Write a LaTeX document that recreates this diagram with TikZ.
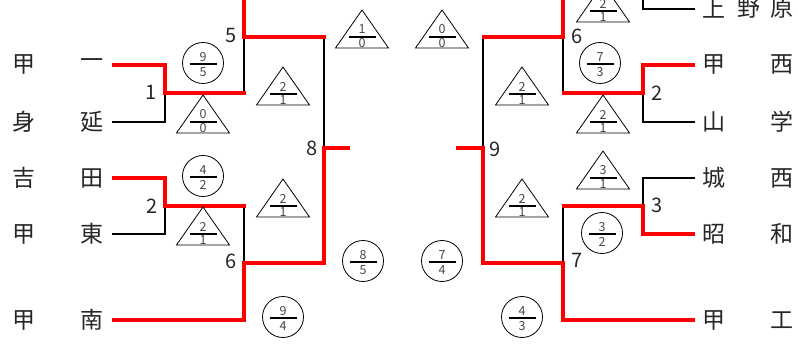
\documentclass[tikz,border=0pt]{standalone}
\usepackage{fontspec}
\setmainfont{Noto Sans CJK JP}
\tikzset{
  win/.style={draw=red, line width=4.6pt, line join=miter},
  lose/.style={draw=black, line width=1.8pt},
  team/.style={font=\fontsize{23}{23}\selectfont, inner sep=0pt, text=black!85},
  rnd/.style={font=\fontsize{20}{20}\selectfont, inner sep=0pt, text=black!85},
  num/.style={font=\fontsize{12.5}{12.5}\selectfont, inner sep=0pt, text=black!72},
  triline/.style={draw=black, line width=0.8pt},
  fbar/.style={draw=black, line width=1.7pt},
}
\newcommand{\tribox}[5]{%
  \draw[triline] ({#2},{#3}) -- ({#2-26.5},{#3+38}) -- ({#2+26.5},{#3+38}) -- cycle;
  \draw[fbar] ({#2-13.5},{#3+27}) -- ({#2+13.5},{#3+27});
  \node[num] (#1-t) at ({#2},{#3+19.5}) {#4};
  \node[num] (#1-b) at ({#2},{#3+33.5}) {#5};}
\newcommand{\circbox}[5]{%
  \draw[triline] ({#2},{#3}) circle (20.5);
  \draw[fbar] ({#2-13.5},{#3+1}) -- ({#2+13.5},{#3+1});
  \node[num] (#1-t) at ({#2},{#3-6}) {#4};
  \node[num] (#1-b) at ({#2},{#3+9}) {#5};}
\begin{document}
\begin{tikzpicture}[x=1pt,y=-1pt]
\useasboundingbox (0,0) rectangle (798,350);
\clip (0,0) rectangle (798,350);

% ---------- left teams ----------
\node[team] (L1a) at (24,64) {甲};  \node[team] (L1b) at (92,64) {一};
\node[team] (L2a) at (24,122) {身}; \node[team] (L2b) at (92,122) {延};
\node[team] (L3a) at (24,178) {吉}; \node[team] (L3b) at (92,178) {田};
\node[team] (L4a) at (24,234) {甲}; \node[team] (L4b) at (92,234) {東};
\node[team] (L5a) at (24,320) {甲}; \node[team] (L5b) at (92,320) {南};

% ---------- right teams ----------
\node[team] (R0a) at (714,8) {上}; \node[team] (R0b) at (749,8) {野}; \node[team] (R0c) at (782,8) {原};
\node[team] (R1a) at (714,64) {甲};  \node[team] (R1b) at (782,64) {西};
\node[team] (R2a) at (714,122) {山}; \node[team] (R2b) at (782,122) {学};
\node[team] (R3a) at (714,178) {城}; \node[team] (R3b) at (782,178) {西};
\node[team] (R4a) at (714,234) {昭}; \node[team] (R4b) at (782,234) {和};
\node[team] (R5a) at (714,320) {甲}; \node[team] (R5b) at (782,320) {工};

% ---------- left coordinates ----------
\coordinate (pL1) at (112,65);  \coordinate (pL2) at (112,122);
\coordinate (pL3) at (112,178); \coordinate (pL4) at (112,234);
\coordinate (pL5) at (112,320);
\coordinate (m1) at (165,93);   \coordinate (m2) at (165,206);
\coordinate (m5) at (244,37);   \coordinate (m5a) at (244,93);  \coordinate (m5t) at (244,-8);
\coordinate (m6) at (244,263);  \coordinate (m6a) at (244,206); \coordinate (m6b) at (244,320);
\coordinate (m8) at (324,148);  \coordinate (m8a) at (324,37);  \coordinate (m8b) at (324,263);
\coordinate (f8) at (350,148);

% ---------- right coordinates ----------
\coordinate (pR0) at (695,9);   \coordinate (pR1) at (695,65);
\coordinate (pR2) at (695,122); \coordinate (pR3) at (695,178);
\coordinate (pR4) at (695,234); \coordinate (pR5) at (695,320);
\coordinate (n0t) at (643,-8);
\coordinate (n2) at (643,93);   \coordinate (n3) at (643,206);
\coordinate (n6) at (563,37);   \coordinate (n6a) at (563,93);  \coordinate (n6t) at (563,-8);
\coordinate (n7) at (563,263);  \coordinate (n7a) at (563,206); \coordinate (n7b) at (563,320);
\coordinate (n9) at (483,148);  \coordinate (n9a) at (483,37);  \coordinate (n9b) at (483,263);
\coordinate (f9) at (456,148);

% ---------- losing (black) lines ----------
\draw[lose] (pL2) -| (m1);
\draw[lose] (pL4) -| (m2);
\draw[lose] (m5) -- (m5a);
\draw[lose] (m6a) -- (m6);
\draw[lose] (m8a) -- (m8);
\draw[lose] (pR0) -| (n0t);
\draw[lose] (pR2) -| (n2);
\draw[lose] (pR3) -| (n3);
\draw[lose] (n6) -- (n6a);
\draw[lose] (n7a) -- (n7);
\draw[lose] (n9a) -- (n9);

% ---------- winning (red) lines ----------
\draw[win] (pL1) -| (m1) -- ([xshift=1.5pt]m5a);
\draw[win] (pL3) -| (m2) -- ([xshift=1.5pt]m6a);
\draw[win] (m5t) -- (m5) -- ([xshift=1.5pt]m8a);
\draw[win] (pL5) -- (m6b) -- (m6) -- (m8b) -- (m8) -- (f8);
\draw[win] (pR1) -| (n2) -- ([xshift=-1.5pt]n6a);
\draw[win] (pR4) -| (n3) -- ([xshift=-1.5pt]n7a);
\draw[win] (n6t) -- (n6) -- ([xshift=-1.5pt]n9a);
\draw[win] (pR5) -- (n7b) -- (n7) -- (n9b) -- (n9) -- (f9);

% ---------- match numbers ----------
\node[rnd] (k1) at (151,92) {1};
\node[rnd] (k2) at (152,206) {2};
\node[rnd] (k5) at (231,36) {5};
\node[rnd] (k6) at (231,261) {6};
\node[rnd] (k8) at (312,148) {8};
\node[rnd] (j6) at (577,36) {6};
\node[rnd] (j2) at (657,93) {2};
\node[rnd] (j9) at (495,149) {9};
\node[rnd] (j3) at (657,205) {3};
\node[rnd] (j7) at (577,260) {7};

% ---------- scores ----------
\tribox{tA}{203}{95}{0}{0}
\tribox{tB}{203}{207}{2}{1}
\tribox{tC}{283}{67}{2}{1}
\tribox{tD}{283}{179}{2}{1}
\tribox{tE}{362}{10}{1}{0}
\circbox{cA}{203}{63}{9}{5}
\circbox{cB}{203}{176}{4}{2}
\circbox{cC}{363}{261}{8}{5}
\circbox{cD}{283}{317}{9}{4}

\tribox{tF}{442}{10}{0}{0}
\tribox{tG}{603}{-16}{2}{1}
\tribox{tH}{603}{95}{2}{1}
\tribox{tI}{522}{67}{2}{1}
\tribox{tJ}{603}{151}{3}{1}
\tribox{tK}{522}{179}{2}{1}
\circbox{cE}{600}{63}{7}{3}
\circbox{cF}{602}{233}{3}{2}
\circbox{cG}{442}{261}{7}{4}
\circbox{cH}{522}{317}{4}{3}
\end{tikzpicture}
\end{document}
